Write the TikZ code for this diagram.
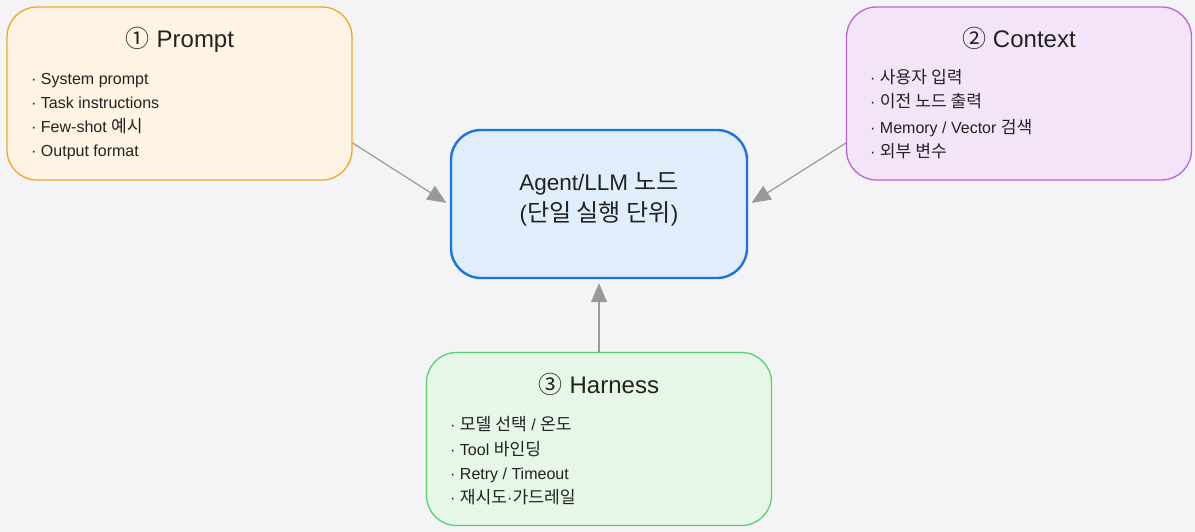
\documentclass[tikz,border=0pt]{standalone}
\usepackage{fontspec}
\setmainfont{Liberation Sans}
\newfontfamily\kr[Scale=1.07]{Noto Sans CJK KR}
\newfontfamily\numfont{Noto Sans CJK KR}
\usetikzlibrary{arrows.meta}

\definecolor{bgc}{HTML}{F4F4F7}
\definecolor{txt}{HTML}{222222}
\definecolor{promptfill}{HTML}{FFF3E3}
\definecolor{promptline}{HTML}{F5A623}
\definecolor{ctxfill}{HTML}{F3E4F7}
\definecolor{ctxline}{HTML}{B864DC}
\definecolor{corefill}{HTML}{E0EEFC}
\definecolor{coreline}{HTML}{1A73E0}
\definecolor{harnfill}{HTML}{E6F6E7}
\definecolor{harnline}{HTML}{5CCF72}
\definecolor{link}{HTML}{999999}

\tikzset{
  panel/.style={rounded corners=30pt, line width=1.3pt, minimum width=345pt, minimum height=173pt, inner sep=0pt},
  title/.style={text=txt, font=\fontsize{24}{28}\selectfont, inner sep=0pt, anchor=base},
  item/.style={text=txt, font=\fontsize{16}{19}\selectfont, inner sep=0pt, anchor=base west},
  core/.style={text=txt, font=\fontsize{22.5}{31}\selectfont, align=center, inner sep=0pt},
  feed/.style={draw=link, line width=1.2pt, shorten >=4pt, -{Triangle[length=19pt,width=16pt]}}
}

\begin{document}
\begin{tikzpicture}[x=1pt,y=-1pt]
\useasboundingbox[fill=bgc] (0,0) rectangle (1195,532);

% three input panels and the central node
\node[panel, draw=promptline, fill=promptfill] (prompt) at (179.5,93.5) {};
\node[panel, draw=ctxline, fill=ctxfill] (context) at (1019,93.5) {};
\node[panel, draw=harnline, fill=harnfill] (harness) at (599,439) {};
\node[draw=coreline, fill=corefill, line width=2.4pt, rounded corners=30pt,
      minimum width=296pt, minimum height=148pt] (agent) at (599,204) {};

% Prompt
\node[title] (ptitle) at (180,48) {{\numfont ①} Prompt};
\node[item] (p1) at (31,85) {· System prompt};
\node[item] (p2) at (31,109) {· Task instructions};
\node[item] (p3) at (31,133) {· Few-shot {\kr 예시}};
\node[item] (p4) at (31,157) {· Output format};

% Context
\node[title] (ctitle) at (1019,48) {{\numfont ②} Context};
\node[item] (c1) at (870,84) {· {\kr 사용자 입력}};
\node[item] (c2) at (870,108) {· {\kr 이전 노드 출력}};
\node[item] (c3) at (870,134) {· Memory / Vector {\kr 검색}};
\node[item] (c4) at (870,158) {· {\kr 외부 변수}};

% Harness
\node[title] (htitle) at (599,393) {{\numfont ③} Harness};
\node[item] (h1) at (450,430) {· {\kr 모델 선택} / {\kr 온도}};
\node[item] (h2) at (450,455) {· Tool {\kr 바인딩}};
\node[item] (h3) at (450,479) {· Retry / Timeout};
\node[item] (h4) at (450,503) {· {\kr 재시도}·{\kr 가드레일}};

% central label
\node[core] (alabel) at (599,199) {Agent/LLM {\kr 노드}\\({\kr 단일 실행 단위})};

% connectors
\draw[feed] (prompt.east |- 0,143) -- (agent.west |- 0,205);
\draw[feed] (context.west |- 0,143) -- (agent.east |- 0,205);
\draw[feed] (harness.north) -- (agent.south);
\end{tikzpicture}
\end{document}
